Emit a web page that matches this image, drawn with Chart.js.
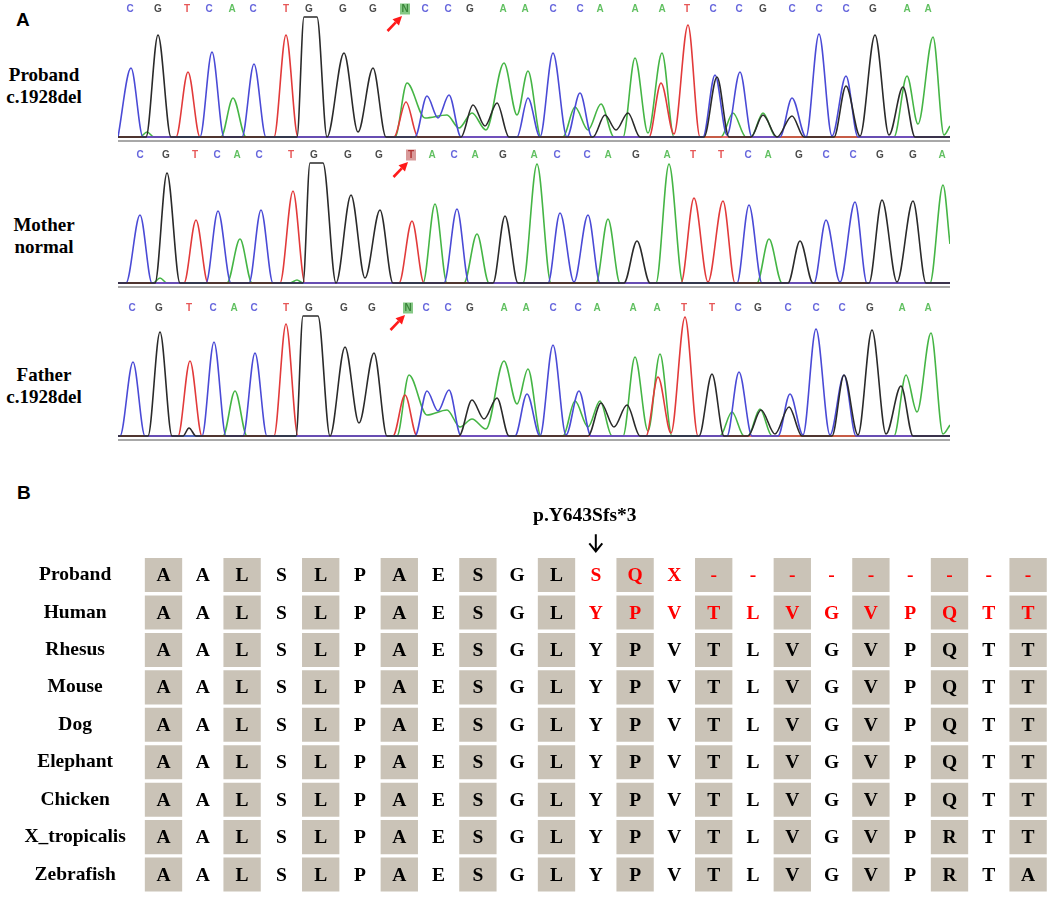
<!DOCTYPE html>
<html>
<head>
<meta charset="utf-8">
<script src="https://cdn.jsdelivr.net/npm/chart.js@4.4.1/dist/chart.umd.min.js"></script>
<style>
  html, body { margin: 0; padding: 0; background: #fff; }
  body { width: 1052px; height: 915px; position: relative; overflow: hidden; }
  canvas { position: absolute; }
  .panel { position: absolute; font: bold 19px "Liberation Sans", Arial, sans-serif; line-height: 20px; }
  .sample { position: absolute; left: 0; width: 88px; text-align: center;
            font: bold 19px "Liberation Serif", "Times New Roman", serif; line-height: 22px; }
</style>
</head>
<body>
<div class="panel" style="left:16px;top:10px">A</div>
<div class="panel" style="left:17px;top:483px">B</div>
<div class="sample" style="top:64px">Proband<br>c.1928del</div>
<div class="sample" style="top:214px">Mother<br>normal</div>
<div class="sample" style="top:364px">Father<br>c.1928del</div>

<canvas id="trace1" width="832" height="144" style="left:118px;top:0px"></canvas>
<canvas id="trace2" width="832" height="144" style="left:118px;top:146px"></canvas>
<canvas id="trace3" width="832" height="144" style="left:118px;top:299px"></canvas>
<canvas id="align" width="1052" height="415" style="left:0px;top:500px"></canvas>

<script>
// ---- panel A: chromatogram traces, [scan position, signal] ----
const probandC = [[118,1],[131,70],[143,1],[200,1],[212,86],[224,1],[242,1],[254,74],[266,1],[415,1],[427,42],[438,20],[449,43],[461,1],[517,1],[528,40],[540,1],[553,85],[567,1],[580,45],[592,1],[703,1],[715,63],[727,3],[740,66],[752,1],[780,1],[792,40],[806,1],[819,104],[832,2],[846,62],[858,1],[950,1]];
const probandG = [[118,1],[146,1],[158,103],[171,1],[297,1],[304,121],[317,121],[327,1],[344,85],[358,6],[373,70],[386,1],[461,1],[473,33],[485,12],[497,35],[509,1],[593,1],[605,23],[616,8],[628,25],[640,1],[704,1],[717,61],[729,1],[751,1],[763,23],[777,1],[792,22],[804,1],[834,1],[846,52],[860,2],[875,103],[889,3],[903,51],[915,1],[950,1]];
const probandT = [[118,1],[176,1],[188,66],[200,1],[274,1],[286,103],[298,1],[394,1],[406,36],[418,1],[649,1],[661,55],[674,4],[688,113],[700,1],[950,1]];
const probandA = [[118,1],[140,1],[147,6],[154,1],[221,1],[233,40],[246,1],[395,1],[407,55],[425,20],[447,23],[459,10],[472,25],[486,8],[504,75],[517,23],[528,67],[541,1],[563,1],[575,31],[588,8],[601,34],[614,1],[623,1],[635,80],[648,5],[662,85],[674,1],[721,1],[733,25],[746,1],[751,1],[763,25],[776,1],[894,1],[907,62],[918,14],[933,101],[944,3],[950,12]];

const motherC = [[118,1],[126,1],[140,69],[152,1],[206,1],[218,73],[231,1],[249,1],[261,74],[273,1],[444,1],[457,75],[469,1],[548,1],[560,71],[574,2],[588,69],[600,1],[737,1],[749,79],[762,1],[814,1],[826,64],[840,2],[855,82],[867,1],[950,1]];
const motherG = [[118,1],[155,1],[167,111],[180,1],[303,1],[310,121],[323,121],[336,1],[351,89],[365,6],[380,74],[393,1],[493,1],[505,68],[518,1],[624,1],[637,43],[650,1],[788,1],[800,43],[813,1],[869,1],[882,84],[897,2],[913,83],[926,1],[950,1]];
const motherT = [[118,1],[184,1],[196,64],[208,1],[280,1],[293,93],[305,1],[399,1],[412,63],[424,1],[681,1],[694,86],[708,2],[723,83],[735,1],[950,1]];
const motherA = [[118,1],[153,1],[160,6],[167,1],[227,1],[240,45],[252,1],[290,1],[297,4],[303,1],[423,1],[435,80],[447,1],[464,1],[477,50],[489,1],[523,1],[537,120],[551,1],[596,1],[608,65],[620,1],[656,1],[669,120],[683,1],[757,1],[769,45],[782,1],[930,1],[943,99],[950,40]];

const fatherC = [[118,1],[120,1],[133,75],[145,1],[202,1],[214,95],[226,1],[243,1],[255,84],[267,1],[415,1],[427,46],[438,26],[449,47],[461,1],[515,1],[527,43],[540,1],[553,92],[566,2],[579,46],[591,1],[727,1],[739,65],[752,1],[778,1],[790,43],[803,2],[816,108],[830,2],[844,62],[856,1],[950,1]];
const fatherG = [[118,1],[148,1],[160,105],[172,1],[183,1],[189,9],[196,1],[296,1],[303,121],[318,121],[330,1],[345,90],[359,14],[374,84],[387,1],[459,1],[472,37],[484,18],[497,39],[509,1],[588,1],[601,34],[614,10],[627,32],[640,1],[699,1],[712,63],[724,1],[748,1],[761,27],[775,3],[789,30],[802,1],[832,1],[844,62],[858,2],[872,107],[886,3],[901,51],[913,1],[950,1]];
const fatherT = [[118,1],[178,1],[190,76],[202,1],[274,1],[286,113],[298,1],[393,1],[405,42],[417,1],[646,1],[658,60],[671,4],[685,120],[698,1],[950,1]];
const fatherA = [[118,1],[223,1],[235,46],[247,1],[397,1],[409,62],[427,22],[447,27],[460,10],[472,18],[486,8],[504,76],[517,33],[528,68],[541,1],[563,1],[575,36],[588,10],[600,36],[612,1],[623,1],[635,80],[648,6],[660,83],[672,1],[720,1],[732,25],[744,1],[748,1],[760,28],[772,1],[894,1],[906,62],[917,25],[931,104],[943,3],[950,12]];

// base calls above each trace
const probandCalls = 'CGTCACTGGGNCCGAACCAAATCCGCCCGAA'.split('');
const probandCallPos = [130,158,187,209,232,253,286,309,343,373,405,425,448,470,503,525,553,580,600,635,662,687,713,739,763,792,819,846,873,907,928];
const motherCalls = 'CGTCACTGGGTACAGACCAGATTCAGCCGGA'.split('');
const motherCallPos = [140,166,195,217,237,259,291,314,348,379,411,432,454,475,503,534,557,587,608,636,667,693,721,748,768,799,826,853,880,913,942];
const fatherCalls = 'CGTCACTGGGNCCGAACCAAATTCGCCCGAA'.split('');
const fatherCallPos = [132,159,189,213,234,254,286,309,344,372,408,426,448,470,504,526,553,578,597,633,657,684,712,738,758,788,816,842,870,902,928];
const markedCall = 10;

// ---- panel B: alignment ----
const residueNumbers = [632,633,634,635,636,637,638,639,640,641,642,643,644,645,646,647,648,649,650,651,652,653,654];
const species = ['Proband', 'Human', 'Rhesus', 'Mouse', 'Dog', 'Elephant', 'Chicken', 'X_tropicalis', 'Zebrafish'];
const alignment = [
  'AALSLPAESGLSQX---------',
  'AALSLPAESGLYPVTLVGVPQTT',
  'AALSLPAESGLYPVTLVGVPQTT',
  'AALSLPAESGLYPVTLVGVPQTT',
  'AALSLPAESGLYPVTLVGVPQTT',
  'AALSLPAESGLYPVTLVGVPQTT',
  'AALSLPAESGLYPVTLVGVPQTT',
  'AALSLPAESGLYPVTLVGVPRTT',
  'AALSLPAESGLYPVTLVGVPRTA'
];
const shadedColumns = [0, 2, 4, 6, 8, 10, 12, 14, 16, 18, 20, 22];
const highlightedRows = [0, 1];
const mutationSite = 643;
const mutationLabel = 'p.Y643Sfs*3';

const baseColors = { C: '#4a4ad6', G: '#2a2a2a', T: '#e23a3a', A: '#45b545' };

const baseCallPlugin = {
  id: 'baseCalls',
  beforeDatasetsDraw(chart, args, opts) {
    const { ctx, chartArea, scales: { y } } = chart;
    const y0 = y.getPixelForValue(0);
    ctx.save();
    ctx.strokeStyle = '#a8a8a8';
    ctx.lineWidth = 2;
    ctx.beginPath();
    ctx.moveTo(chartArea.left, y0 + 3);
    ctx.lineTo(chartArea.right, y0 + 3);
    ctx.stroke();
    ctx.restore();
  },
  afterDraw(chart, args, opts) {
    const { ctx, chartArea, scales: { x } } = chart;
    ctx.save();
    ctx.font = 'bold 10px "Liberation Sans", Arial, sans-serif';
    ctx.textAlign = 'center';
    ctx.textBaseline = 'middle';
    const py = chartArea.top - 8;
    opts.calls.forEach((b, i) => {
      const px = x.getPixelForValue(opts.pos[i]);
      if (i === opts.mark) {
        ctx.fillStyle = opts.markFill;
        ctx.fillRect(px - 5, py - 5.5, 10, 11);
        ctx.fillStyle = opts.markText;
      } else {
        ctx.fillStyle = baseColors[b] || '#333';
      }
      ctx.globalAlpha = 0.85;
      ctx.fillText(b, px, py + 0.5);
      ctx.globalAlpha = 1;
    });
    // red arrow pointing at the marked base
    const mx = x.getPixelForValue(opts.pos[opts.mark]);
    const tip = [mx - 3, chartArea.top - 1];
    const tail = [mx - 17.5, chartArea.top + 14];
    const dx = tip[0] - tail[0], dy = tip[1] - tail[1];
    const len = Math.hypot(dx, dy), ux = dx / len, uy = dy / len;
    const hb = [tip[0] - ux * 9, tip[1] - uy * 9];
    ctx.strokeStyle = '#ff1a1a';
    ctx.fillStyle = '#ff1a1a';
    ctx.lineWidth = 2.6;
    ctx.beginPath();
    ctx.moveTo(tail[0], tail[1]);
    ctx.lineTo(hb[0], hb[1]);
    ctx.stroke();
    ctx.beginPath();
    ctx.moveTo(tip[0], tip[1]);
    ctx.lineTo(hb[0] - uy * 4.5, hb[1] + ux * 4.5);
    ctx.lineTo(hb[0] + uy * 4.5, hb[1] - ux * 4.5);
    ctx.closePath();
    ctx.fill();
    ctx.restore();
  }
};

function traceChart(id, channels, calls, pos, markFill, markText) {
  // first dataset is drawn on top
  const order = ['G', 'C', 'T', 'A'];
  return new Chart(document.getElementById(id), {
    type: 'line',
    data: {
      datasets: order.map(b => ({
        data: channels[b],
        borderColor: baseColors[b],
        borderWidth: 1.6,
        pointRadius: 0,
        cubicInterpolationMode: 'monotone',
        clip: false
      }))
    },
    options: {
      responsive: false,
      animation: false,
      layout: { padding: { top: 17, bottom: 6, left: 0, right: 0 } },
      scales: {
        x: { type: 'linear', min: 118, max: 950, display: false },
        y: { min: 0, max: 121, display: false }
      },
      plugins: {
        legend: { display: false },
        tooltip: { enabled: false },
        baseCalls: { calls, pos, mark: markedCall, markFill, markText }
      }
    },
    plugins: [baseCallPlugin]
  });
}

traceChart('trace1', { C: probandC, G: probandG, T: probandT, A: probandA }, probandCalls, probandCallPos, '#86c986', '#2d7a2d');
traceChart('trace2', { C: motherC, G: motherG, T: motherT, A: motherA }, motherCalls, motherCallPos, '#d99a9a', '#a82020');
traceChart('trace3', { C: fatherC, G: fatherG, T: fatherT, A: fatherA }, fatherCalls, fatherCallPos, '#86c986', '#2d7a2d');

// ---- panel B chart ----
const serif = '"Liberation Serif", "Times New Roman", serif';
const mutCol = residueNumbers.indexOf(mutationSite);

const alignmentPlugin = {
  id: 'alignmentText',
  afterDatasetsDraw(chart) {
    const { ctx, scales: { x, y } } = chart;
    ctx.save();
    ctx.font = 'bold 19.5px ' + serif;
    ctx.textAlign = 'center';
    ctx.textBaseline = 'middle';
    alignment.forEach((seq, r) => {
      seq.split('').forEach((aa, c) => {
        const red = highlightedRows.includes(r) && c >= mutCol;
        ctx.fillStyle = red ? '#ff0000' : '#000000';
        ctx.fillText(aa, x.getPixelForValue(c), y.getPixelForValue(r) + 1);
      });
    });
    ctx.restore();
  },
  afterDraw(chart) {
    const { ctx, chartArea, scales: { x } } = chart;
    const mx = x.getPixelForValue(mutCol);
    ctx.save();
    ctx.font = 'bold 19.5px ' + serif;
    ctx.fillStyle = '#000';
    ctx.textAlign = 'center';
    ctx.textBaseline = 'middle';
    ctx.fillText(mutationLabel, mx - 11, chartArea.top - 40);
    ctx.strokeStyle = '#000';
    ctx.lineWidth = 2;
    ctx.beginPath();
    ctx.moveTo(mx, chartArea.top - 22);
    ctx.lineTo(mx, chartArea.top - 5);
    ctx.moveTo(mx - 6.5, chartArea.top - 13);
    ctx.lineTo(mx, chartArea.top - 5);
    ctx.lineTo(mx + 6.5, chartArea.top - 13);
    ctx.stroke();
    ctx.restore();
  }
};

new Chart(document.getElementById('align'), {
  type: 'bar',
  data: {
    labels: residueNumbers,
    datasets: species.map((s, r) => ({
      label: s,
      data: residueNumbers.map((n, c) => shadedColumns.includes(c) ? [r - 0.455, r + 0.455] : null),
      backgroundColor: '#cac3b7',
      borderWidth: 0,
      grouped: false,
      categoryPercentage: 1,
      barPercentage: 0.95
    }))
  },
  options: {
    responsive: false,
    animation: false,
    layout: { padding: { top: 56.35, right: 4.25, bottom: 4.95, left: 0 } },
    scales: {
      x: { display: false },
      y: {
        type: 'linear',
        min: -0.5,
        max: 8.5,
        reverse: true,
        grid: { display: false },
        border: { display: false },
        afterBuildTicks: scale => { scale.ticks = species.map((s, i) => ({ value: i })); },
        afterFit: scale => { scale.width = 143.85; },
        ticks: {
          callback: v => species[v],
          color: '#000',
          font: { family: serif, size: 19.5, weight: 'bold' },
          crossAlign: 'center',
          padding: 10
        }
      }
    },
    plugins: {
      legend: { display: false },
      tooltip: { enabled: false }
    }
  },
  plugins: [alignmentPlugin]
});
</script>
</body>
</html>
